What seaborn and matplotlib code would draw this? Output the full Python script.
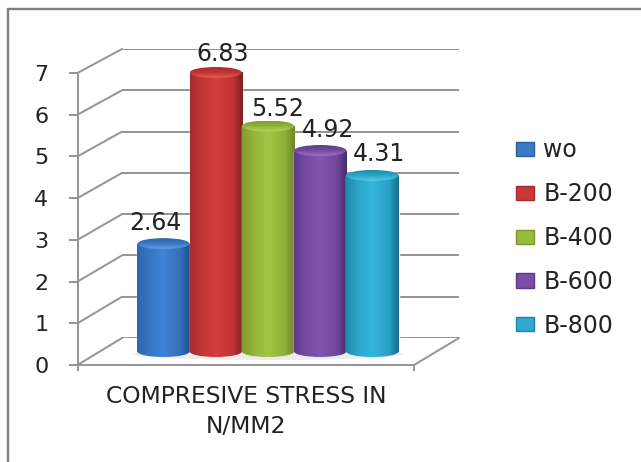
import numpy as np
import pandas as pd
import matplotlib
matplotlib.use("Agg")
import matplotlib.pyplot as plt
from matplotlib.colors import LinearSegmentedColormap
from matplotlib.lines import Line2D
from matplotlib.patches import ConnectionPatch, Ellipse
import seaborn as sns

# Chart content
category = "COMPRESIVE STRESS IN\nN/MM2"
series = ["wo", "B-200", "B-400", "B-600", "B-800"]
values = [2.64, 6.83, 5.52, 4.92, 4.31]
y_ticks = [0, 1, 2, 3, 4, 5, 6, 7]

# Cylinder shading: left edge, body, highlight, body, right edge
body_colors = ["#3a7bc8", "#cc3636", "#98bb3c", "#7b4fa6", "#2fa9cf"]
edge_colors = ["#2a5c9e", "#a02c2c", "#7b962f", "#5a3a88", "#1f83a4"]
shades = [
    ["#2f66ad", "#3676c2", "#3f84d6", "#336fb8", "#1e4f8e"],
    ["#a52d2d", "#c43535", "#d63d3c", "#c03333", "#7d2020"],
    ["#7f9c31", "#94b53a", "#a2c644", "#8fae39", "#6d8729"],
    ["#5d3a8a", "#754aa1", "#8356ae", "#70469d", "#452b6c"],
    ["#2188a9", "#2ba5ca", "#34b6de", "#299fc3", "#176d89"],
]
shade_stops = [0.0, 0.22, 0.5, 0.82, 1.0]
caps = [
    ["#2c62aa", "#3a78c4", "#5a9ae0"],
    ["#a82c2c", "#c23434", "#e25a58"],
    ["#7e9b30", "#94b63a", "#b9d65c"],
    ["#5e3b8c", "#744aa0", "#9a72c0"],
    ["#1f8aad", "#2ba6cc", "#58c8e8"],
]
# Data label shift from the top of each bar, in pixels
label_shift = [(-8, 21), (7, 18), (10, 17), (8, 21), (7, 21)]

W, H = 641, 462
PX = 0.72  # points per pixel at 100 dpi
LINE = "#969696"
LINE_W = 2.0 * PX
TEXT = "#222222"


def rect(x0, x1, top, bottom):
    """Axes rectangle from pixel edges measured from the top left."""
    return [x0 / W, 1 - bottom / H, (x1 - x0) / W, (bottom - top) / H]


sns.set_theme(style="white", rc={"font.family": "DejaVu Sans"})
fig = plt.figure(figsize=(W / 100, H / 100), dpi=100, facecolor="white")

# Outer chart frame, open on the right and bottom
for xy in (((7.5 / W, 1 - 9 / H), (1, 1 - 9 / H)), ((7.5 / W, 1 - 9 / H), (7.5 / W, 0))):
    fig.add_artist(Line2D(*zip(*xy), color="#808080", lw=2.4 * PX, transform=fig.transFigure))

# Back wall with the horizontal gridlines
back = fig.add_axes(rect(122, 459, 49, 338), zorder=1)
back.set(xlim=(-0.5, 0.5), ylim=(0, 7), xticks=[], yticks=y_ticks)
back.set_yticklabels([])
back.tick_params(left=False, length=0)
back.grid(axis="y", color=LINE, lw=LINE_W)
sns.despine(ax=back, left=True, bottom=True)

# Front axis carrying the ticks and tick labels
front = fig.add_axes(rect(77.5, 414, 73, 365), zorder=4, facecolor="none")
front.set(xlim=(-0.5, 0.5), ylim=(0, 7))
front.set_yticks(y_ticks)
front.set_xticks([-0.5, 0.5])
front.set_xticklabels([])
front.set_xticks([0], labels=[category], minor=True)
front.tick_params(axis="y", left=True, length=9 * PX, width=LINE_W, color=LINE,
                  pad=20 * PX, labelsize=16, labelcolor=TEXT)
front.tick_params(axis="x", which="major", bottom=True, length=6 * PX, width=LINE_W, color=LINE)
front.tick_params(axis="x", which="minor", bottom=False, length=0, pad=20 * PX,
                  labelsize=16.8, labelcolor=TEXT)
for label in front.get_xticklabels(minor=True):
    label.set_linespacing(1.4)
sns.despine(ax=front, top=True, right=True)
for side in ("left", "bottom"):
    front.spines[side].set_color(LINE)
    front.spines[side].set_linewidth(LINE_W)

# Depth lines joining the front axis to the back wall
for v in y_ticks:
    fig.add_artist(ConnectionPatch((-0.5, v), (-0.5, v), "data", "data", axesA=front, axesB=back,
                                   color=LINE, lw=LINE_W, zorder=2))
fig.add_artist(ConnectionPatch((0.5, 0), (0.5, 0), "data", "data", axesA=front, axesB=back,
                               color=LINE, lw=LINE_W, zorder=2))

# Bars stand halfway between the front axis and the back wall
ax = fig.add_axes(rect(99.5, 436.5, 351.5 - 7 * 40.85, 351.5), zorder=3, facecolor="none")
df = pd.DataFrame({"category": [category] * len(series), "series": series, "value": values})
sns.barplot(data=df, x="category", y="value", hue="series", hue_order=series,
            palette=body_colors, width=0.775, gap=0, dodge=True, ax=ax, saturation=1)
ax.set(xlim=(-0.5, 0.5), ylim=(0, 7), xlabel="", ylabel="")
ax.set_autoscale_on(False)

half_cap = 5.5 / 40.85
ax.add_patch(Ellipse((0, -0.06), 0.80, 0.30, fc="#ececec", ec="none", clip_on=False, zorder=1))

for i, container in enumerate(ax.containers):
    bar = container[0]
    x0, w, v = bar.get_x(), bar.get_width(), bar.get_height()
    x1 = x0 + w
    xc = x0 + w / 2
    z = 3 + i
    bar.set_zorder(z)
    body_cmap = LinearSegmentedColormap.from_list(f"body{i}", list(zip(shade_stops, shades[i])))
    ramp = np.linspace(0, 1, 128)[None, :]
    ax.imshow(ramp, cmap=body_cmap, extent=(x0, x1, 0, v), aspect="auto", zorder=z)

    base = Ellipse((xc, 0), w, 2 * half_cap, fc="none", ec="none", clip_on=False, zorder=z)
    ax.add_patch(base)
    base_img = ax.imshow(ramp, cmap=body_cmap, extent=(x0, x1, -half_cap, half_cap),
                         aspect="auto", zorder=z)
    base_img.set_clip_path(base)
    base_img.set_clip_box(fig.bbox)

    top = Ellipse((xc, v), w, 2 * half_cap, fc="none", ec="none", clip_on=False, zorder=z)
    ax.add_patch(top)
    cap_cmap = LinearSegmentedColormap.from_list(f"cap{i}", caps[i])
    top_img = ax.imshow(np.linspace(0, 1, 32)[:, None], cmap=cap_cmap,
                        extent=(x0, x1, v - half_cap, v + half_cap), aspect="auto", zorder=z + 0.1)
    top_img.set_clip_path(top)

    dx, dy = label_shift[i]
    ax.annotate(f"{v:.2f}", (xc, v), xytext=(dx * PX, dy * PX), textcoords="offset points",
                ha="center", va="center", fontsize=17, color=TEXT, zorder=20, annotation_clip=False)

ax.set(xlim=(-0.5, 0.5), ylim=(0, 7))
ax.set_axis_off()

# Series legend to the right of the plot
sns.move_legend(ax, loc="center left", bbox_to_anchor=(515.5 / W, 1 - 238 / H),
                bbox_transform=fig.transFigure, frameon=False, title=None, fontsize=17,
                handlelength=0.8, handleheight=0.55, handletextpad=0.38,
                labelspacing=0.84, borderpad=0, borderaxespad=0)
legend = ax.get_legend()
for text in legend.get_texts():
    text.set_color(TEXT)
for handle, edge in zip(legend.get_patches(), edge_colors):
    handle.set_edgecolor(edge)
    handle.set_linewidth(1)

fig.savefig("out.png", dpi=100)
